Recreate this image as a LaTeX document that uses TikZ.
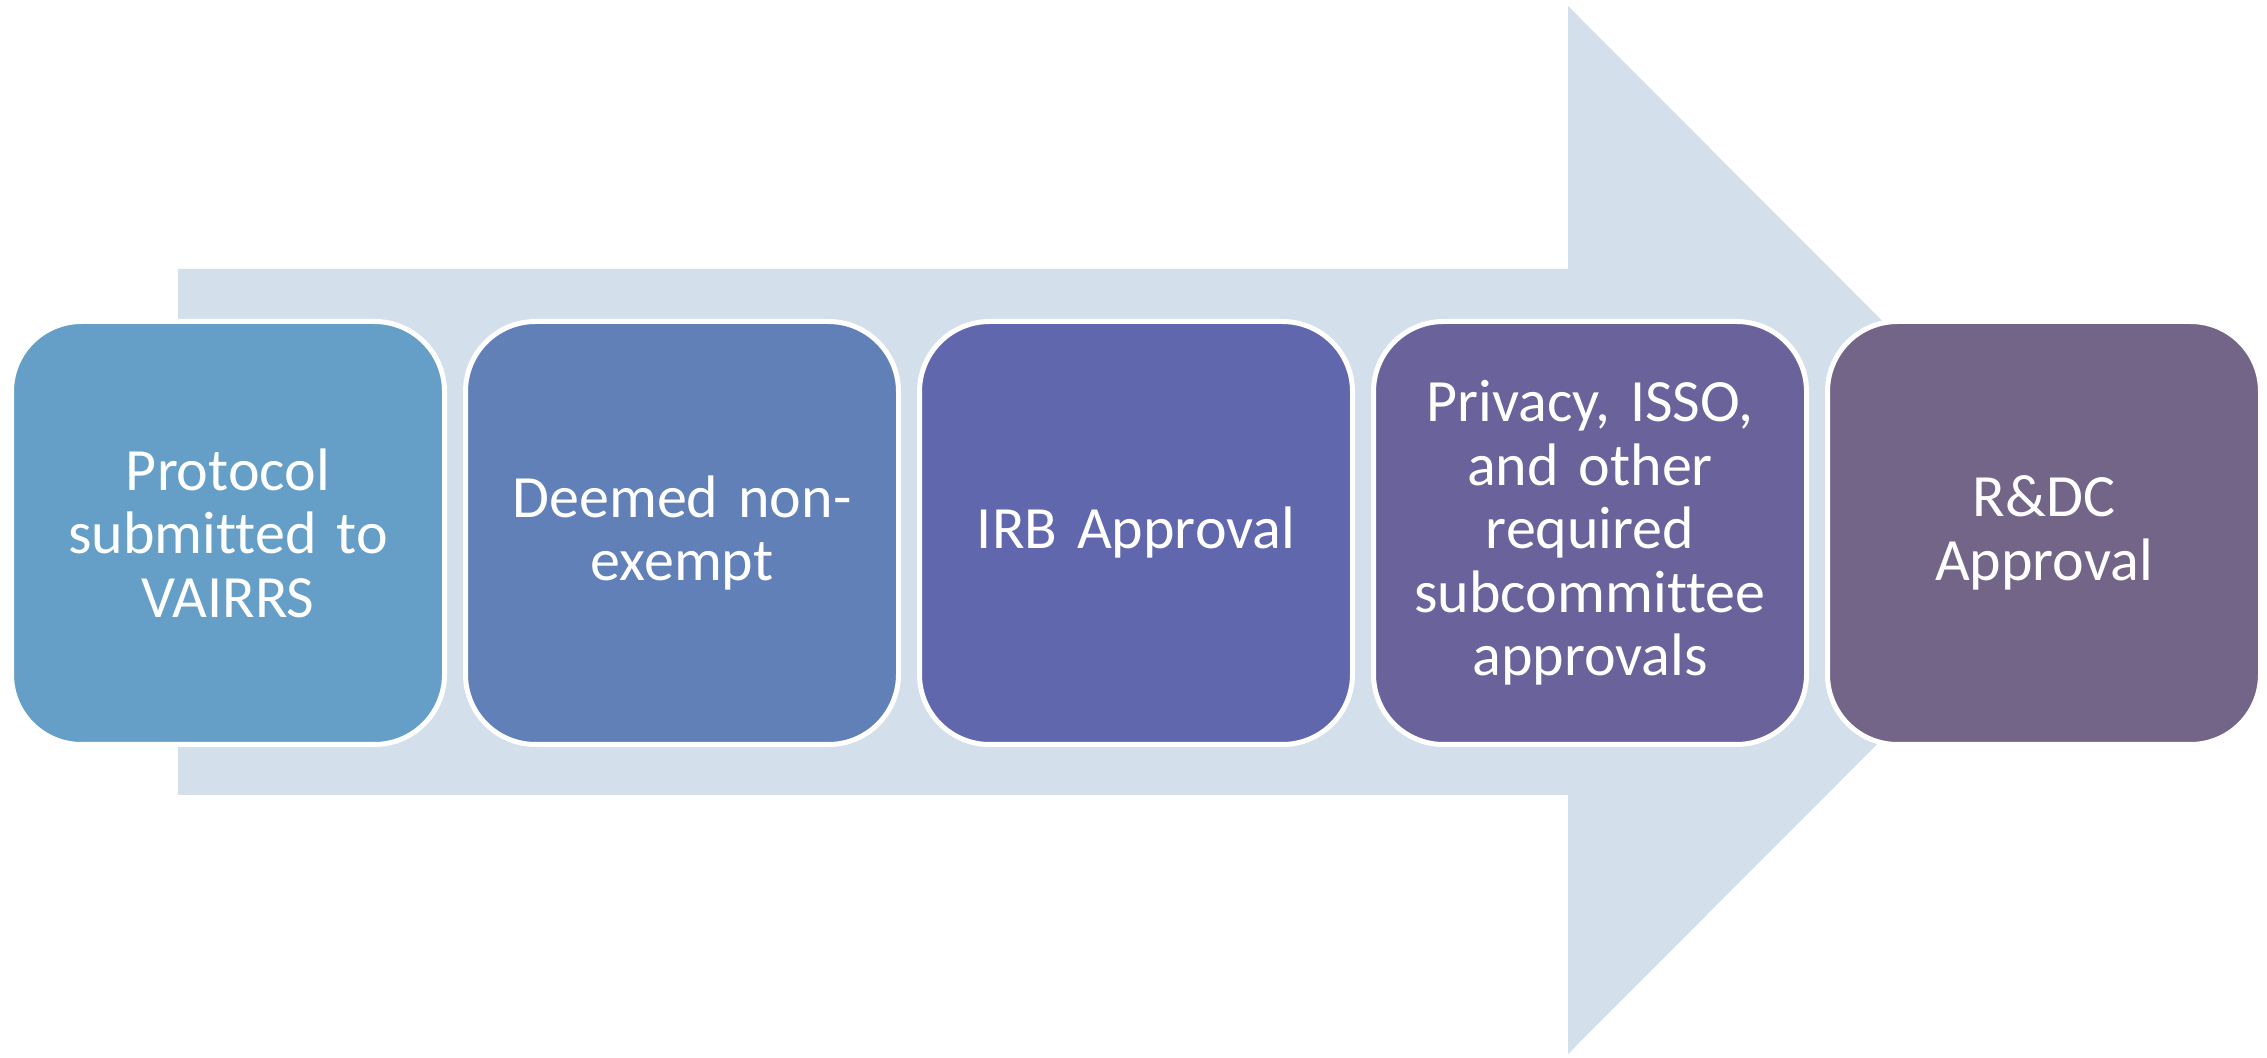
\documentclass[tikz,border=0pt]{standalone}
\usepackage{fontspec}
\setmainfont[Ligatures=NoCommon]{Carlito}
\usetikzlibrary{positioning}
\definecolor{shaftblue}{HTML}{D3DFEA}
\definecolor{stageA}{HTML}{659FC7}
\definecolor{stageB}{HTML}{6180B8}
\definecolor{stageC}{HTML}{6067AC}
\definecolor{stageD}{HTML}{69629B}
\definecolor{stageE}{HTML}{736588}

\begin{document}
\begin{tikzpicture}[x=0.5pt, y=-0.5pt, node distance=10.5pt,
	stage/.style={draw=white, line width=2.5pt, rounded corners=35pt,
		minimum width=216.5pt, minimum height=211.5pt, outer sep=0pt,
		inner sep=0pt, text width=200pt, align=center, text=white,
		font=\fontsize{30}{31.75}\selectfont}]
\useasboundingbox (0,0) rectangle (2267,1058);

%\draw[red] (0,0) rectangle (2267,1058);
\fill[shaftblue] (178,269) -- (1568,269) -- (1568,6) -- (2091,530)
	-- (1568,1054) -- (1568,795) -- (178,795) -- cycle;

\node[stage, fill=stageA] (submit) at (228,533) {Protocol\\submitted to\\VAIRRS};
\node[stage, fill=stageB, right=of submit] (deemed) {Deemed non-\\exempt};
\node[stage, fill=stageC, right=of deemed] (irb) {IRB Approval};
\node[stage, fill=stageD, right=of irb] (privacy) {Privacy, ISSO,\\and other\\required\\subcommittee\\approvals};
\node[stage, fill=stageE, right=of privacy] (rdc) {R\&DC\\Approval};

\end{tikzpicture}
\end{document}
